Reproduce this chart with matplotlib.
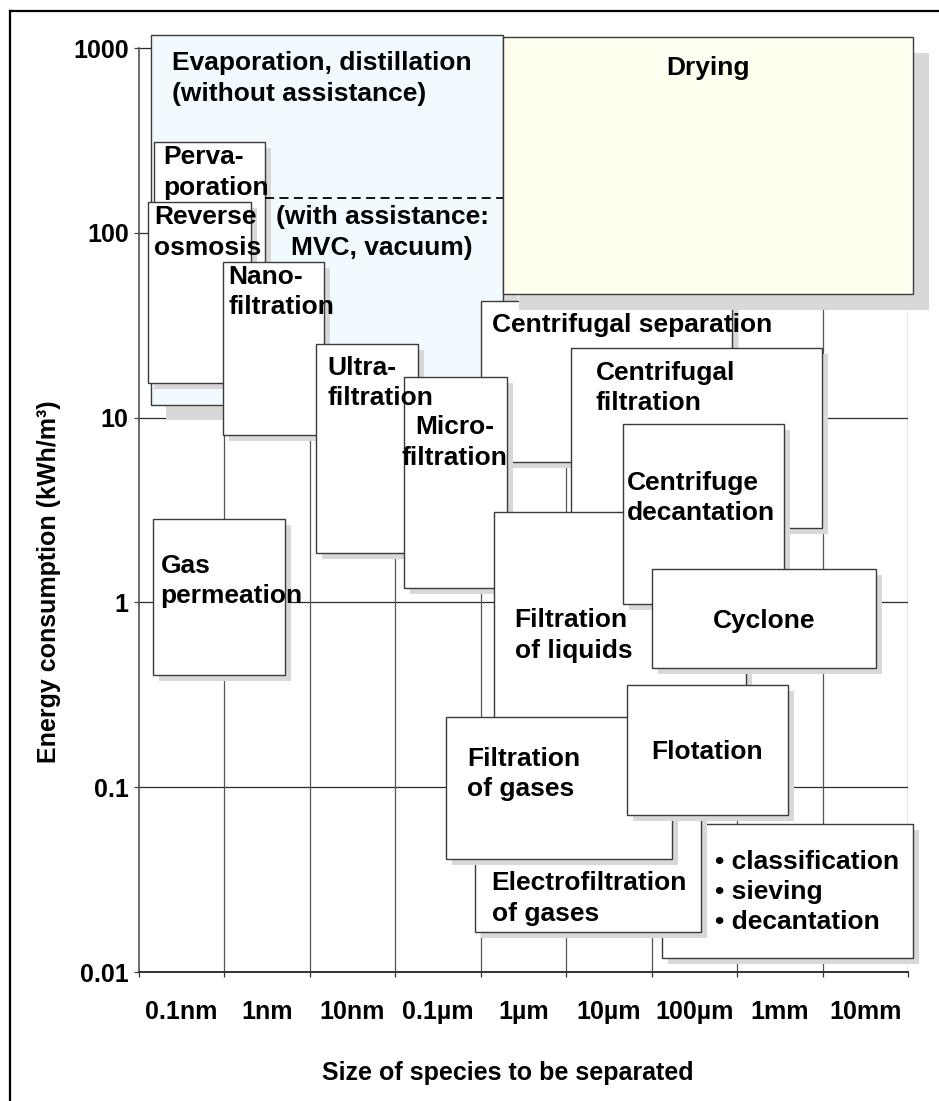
import matplotlib
matplotlib.use("Agg")
import matplotlib.pyplot as plt
from matplotlib.patches import Rectangle
from matplotlib.transforms import ScaledTranslation
from matplotlib.lines import Line2D
from matplotlib.ticker import NullLocator, FixedLocator, NullFormatter

# ---------------- data ----------------
size_labels = ["0.1nm", "1nm", "10nm", "0.1µm", "1µm", "10µm", "100µm", "1mm", "10mm"]
energy_ticks = [0.01, 0.1, 1, 10, 100, 1000]
energy_tick_labels = ["0.01", "0.1", "1", "10", "100", "1000"]

# boxes in drawing order (x in decade index of size axis, y in kWh/m3)
box_names = ["evaporation", "pervaporation", "reverse_osmosis", "nanofiltration",
             "ultrafiltration", "gas_permeation", "centrifugal_separation", "drying",
             "microfiltration", "centrifugal_filtration", "filtration_liquids",
             "centrifuge_decantation", "cyclone", "classification",
             "electrofiltration", "filtration_gases", "flotation"]
box_x0 = [0.15, 0.18, 0.11, 0.99, 2.08, 0.17, 4.01, 4.26, 3.11, 5.06, 4.16,
          5.67, 6.01, 6.12, 3.94, 3.60, 5.71]
box_x1 = [4.26, 1.48, 1.32, 2.17, 3.27, 1.71, 6.94, 9.06, 4.31, 7.99, 7.10,
          7.55, 8.63, 9.06, 6.58, 6.24, 7.60]
box_ymin = [11.7, 16.0, 15.4, 8.05, 1.85, 0.405, 5.75, 46.7, 1.20, 2.53, 0.14,
            0.98, 0.442, 0.0119, 0.0164, 0.0408, 0.0708]
box_ymax = [1175, 310, 147, 69.5, 25.0, 2.82, 42.8, 1150, 16.6, 23.8, 3.08,
            9.23, 1.52, 0.0632, 0.085, 0.24, 0.357]

# limit between unassisted / assisted evaporation
assist_x = [1.48, 4.26]
assist_y = [154, 154]

label_texts = ["Evaporation, distillation\n(without assistance)",
               "(with assistance:\nMVC, vacuum)",
               "Drying", "Perva-\nporation", "Reverse\nosmosis", "Nano-\nfiltration",
               "Ultra-\nfiltration", "Micro-\nfiltration", "Gas\npermeation",
               "Centrifugal separation", "Centrifugal\nfiltration",
               "Centrifuge\ndecantation", "Cyclone", "Filtration\nof liquids",
               "Filtration\nof gases", "Flotation", "Electrofiltration\nof gases",
               "• classification\n• sieving\n• decantation"]
label_x = [0.39, 2.85, 6.66, 0.29, 0.18, 1.05, 2.21, 3.70, 0.26, 4.13, 5.35,
           5.71, 7.32, 4.40, 3.84, 6.65, 4.13, 6.74]
label_y = [684, 100.4, 780, 212, 100.4, 47.9, 15.4, 7.33, 1.31, 31.7, 14.4,
           3.67, 0.792, 0.662, 0.118, 0.155, 0.025, 0.0271]
label_ha = ["left", "center", "center", "left", "left", "left", "left", "center",
            "left", "left", "left", "left", "center", "left", "left", "center",
            "left", "left"]

# ---------------- styles ----------------
fills = {"evaporation": "#F1FBFF", "drying": "#FFFFF0"}
big_shadow = {"evaporation": 15, "drying": 16}
FONT = "Liberation Sans"
EDGE = "#3a3a3a"
SHADOW = "#D8D8D8"

W, H, DPI = 939, 1101, 100
fig = plt.figure(figsize=(W / DPI, H / DPI), dpi=DPI)
fig.patch.set_facecolor("white")

ax_left, ax_right, ax_bottom, ax_top = 138.5, 908, 972, 30
ax = fig.add_axes([ax_left / W, (H - ax_bottom) / H,
                   (ax_right - ax_left) / W, (ax_bottom - ax_top) / H])
ax.set_yscale("log")
ax.set_xlim(0, 9)
ax.set_ylim(0.01, 10 ** (3 + 18 / 184.8))
ax.set_facecolor("none")

for s in ["top", "right"]:
    ax.spines[s].set_visible(False)
ax.spines["left"].set_bounds(0.01, 1000)
ax.spines["left"].set_color("#444444")
ax.spines["left"].set_linewidth(1.1)
ax.spines["bottom"].set_color("#333333")
ax.spines["bottom"].set_linewidth(1.4)
ax.spines["left"].set_zorder(0.5)

ax.yaxis.set_major_locator(FixedLocator(energy_ticks))
ax.yaxis.set_minor_locator(NullLocator())
ax.set_yticklabels(energy_tick_labels, fontsize=18, fontweight="bold", family=FONT)
ax.tick_params(axis="y", which="major", direction="out", length=3.6, width=0.9,
               color="#444444", pad=3.5)

ax.xaxis.set_major_locator(FixedLocator(list(range(10))))
ax.xaxis.set_major_formatter(NullFormatter())
ax.xaxis.set_minor_locator(FixedLocator([i + 0.5 for i in range(len(size_labels))]))
ax.set_xticklabels(size_labels, minor=True, fontsize=18, fontweight="bold", family=FONT)
ax.tick_params(axis="x", which="major", direction="out", length=3.6, width=0.9,
               color="#333333")
ax.tick_params(axis="x", which="minor", length=0, pad=20)

# grid lines
ax.hlines(energy_ticks[1:], 0, 9, colors="#2a2a2a", lw=0.9, zorder=0.3)
ax.vlines(range(1, 10), 0.01, 1000, colors="#555555", lw=0.9, zorder=0.3)

# boxes with drop shadows
for i, name in enumerate(box_names):
    z = 1 + i
    s = big_shadow.get(name, 6)
    shadow_tr = ax.transData + ScaledTranslation(s / DPI, -s / DPI, fig.dpi_scale_trans)
    w = box_x1[i] - box_x0[i]
    h = box_ymax[i] - box_ymin[i]
    ax.add_patch(Rectangle((box_x0[i], box_ymin[i]), w, h, transform=shadow_tr,
                           fc=SHADOW, ec="none", zorder=z, clip_on=False))
    ax.add_patch(Rectangle((box_x0[i], box_ymin[i]), w, h,
                           fc=fills.get(name, "white"), ec=EDGE, lw=1.0,
                           zorder=z + 0.5, clip_on=False))

ax.plot(assist_x, assist_y, color="black", lw=1.3, ls=(0, (5, 3)), zorder=40,
        clip_on=False)

for t, x, y, ha in zip(label_texts, label_x, label_y, label_ha):
    ax.text(x, y, t, ha=ha, va="center", multialignment=ha,
            fontsize=19, fontweight="bold", family=FONT, linespacing=1.33,
            zorder=50, clip_on=False)

fig.text(49 / W, 1 - 582 / H, "Energy consumption (kWh/m³)", rotation=90,
         ha="center", va="center", fontsize=18, fontweight="bold", family=FONT)
fig.text(508 / W, 1 - 1073 / H, "Size of species to be separated",
         ha="center", va="center", fontsize=18, fontweight="bold", family=FONT)

# outer frame (left and top edges visible)
fig.add_artist(Line2D([10 / W, 10 / W], [0, 1 - 11 / H], transform=fig.transFigure,
                      color="black", lw=1.6))
fig.add_artist(Line2D([10 / W, 1], [1 - 11 / H, 1 - 11 / H], transform=fig.transFigure,
                      color="black", lw=1.6))

fig.savefig("out.png", dpi=DPI)
